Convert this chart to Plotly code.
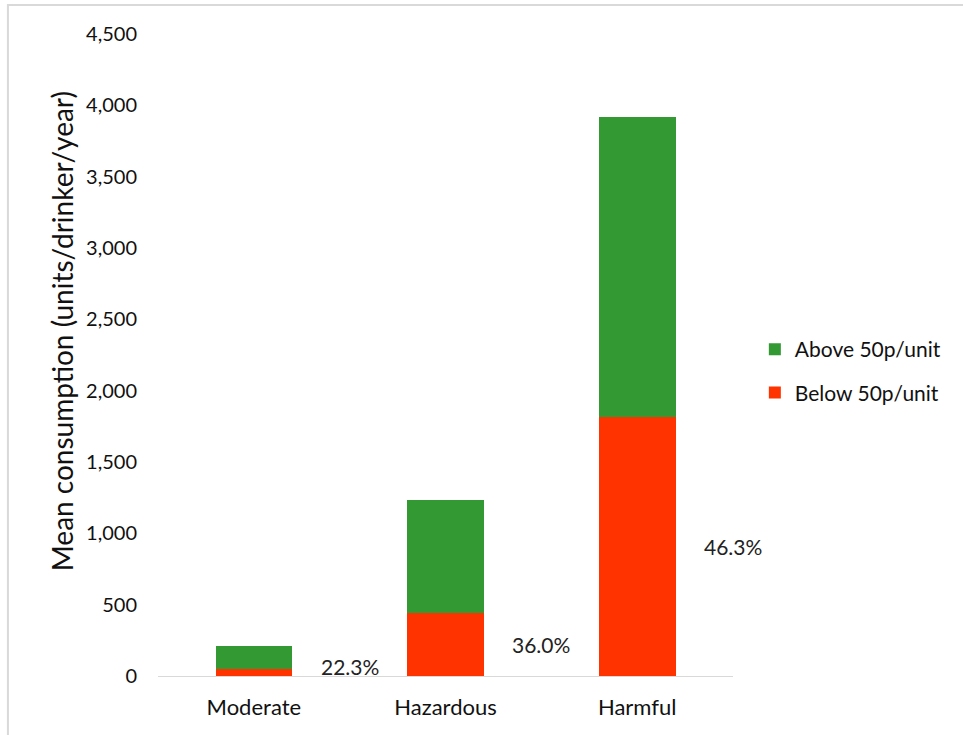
import plotly.graph_objects as go

categories = ["Moderate", "Hazardous", "Harmful"]
below_50p = [47, 444, 1814]
above_50p = [163, 788, 2105]
pct_labels = ["22.3%", "36.0%", "46.3%"]
y_ticks = [0, 500, 1000, 1500, 2000, 2500, 3000, 3500, 4000, 4500]
y_title = "Mean consumption (units/drinker/year)"

GREEN = "#339933"
RED = "#FF3300"
FONT = "Lato"
TXT = "#111111"

fig = go.Figure()
fig.add_trace(go.Bar(x=categories, y=below_50p, name="Below 50p/unit",
                     marker=dict(color=RED, line=dict(width=0)),
                     legendgroup="b", legendrank=2))
fig.add_trace(go.Bar(x=categories, y=above_50p, name="Above 50p/unit",
                     marker=dict(color=GREEN, line=dict(width=0)),
                     legendgroup="a", legendrank=1))

for i, (lab, b) in enumerate(zip(pct_labels, below_50p)):
    fig.add_annotation(x=i + 0.5, y=max(b / 2, 70), xref="x", yref="y", text=lab,
                       showarrow=False, font=dict(family=FONT, size=21, color="#222222"))

# y-axis title (placed like the original, slightly above the axis centre)
fig.add_annotation(x=-0.167, y=0.537, xref="paper", yref="paper", text=y_title,
                   textangle=-90, showarrow=False, xanchor="center", yanchor="middle",
                   font=dict(family=FONT, size=28, color=TXT))

fig.add_shape(type="rect", xref="paper", yref="paper", x0=-0.261, x1=1.6, y0=-0.3, y1=1.045,
              line=dict(color="#d9d9d9", width=2), fillcolor="rgba(0,0,0,0)", layer="below")

fig.update_layout(
    barmode="stack",
    bargap=0.6,
    width=963, height=735,
    margin=dict(l=158, r=230, t=34, b=59, autoexpand=False),
    plot_bgcolor="white", paper_bgcolor="white",
    font=dict(family=FONT, size=20, color=TXT),
    legend=dict(x=1.038, y=0.475, xanchor="left", yanchor="middle",
                traceorder="grouped", tracegroupgap=13,
                font=dict(family=FONT, size=21, color=TXT)),
    xaxis=dict(range=[-0.5, 2.5], showline=True, linecolor="#d9d9d9", linewidth=1,
               ticks="", tickfont=dict(family=FONT, size=22, color=TXT),
               ticklabelstandoff=12),
    yaxis=dict(range=[0, 4500], tickvals=y_ticks, tickformat=",", showgrid=False,
               zeroline=False, showline=False, ticks="",
               tickfont=dict(family=FONT, size=20, color=TXT),
               ticklabelstandoff=20),
)

fig.write_html("out.html", config={"displayModeBar": False},
               post_script="document.body.style.margin='0px';")
